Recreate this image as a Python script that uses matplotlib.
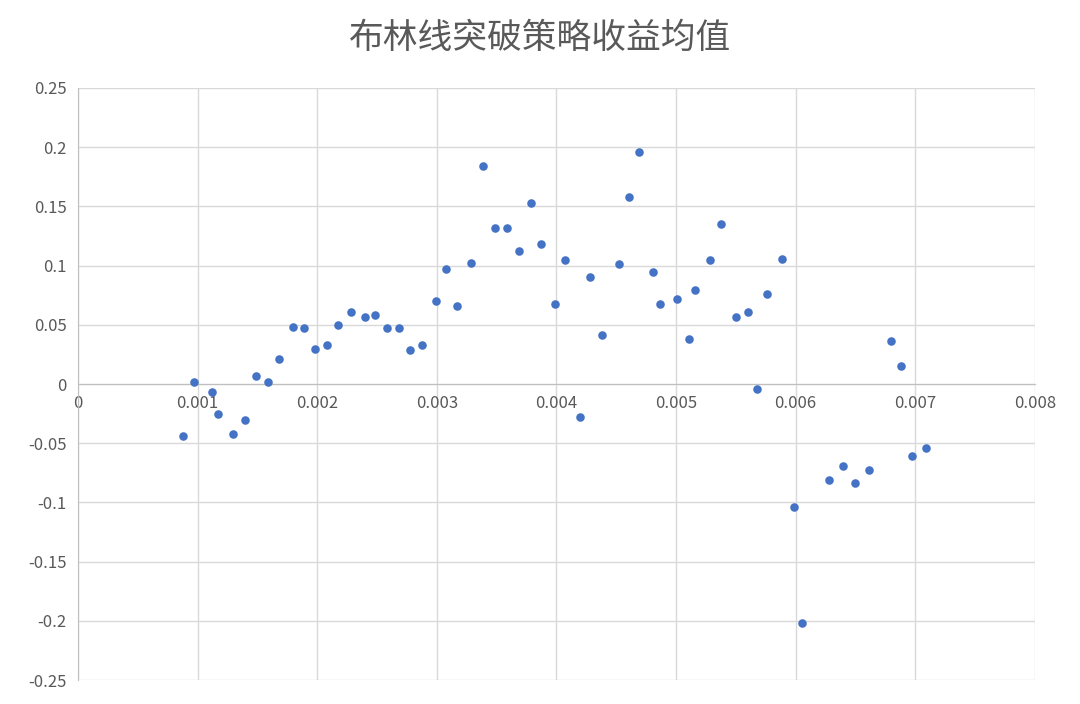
import matplotlib
matplotlib.use("Agg")
import matplotlib.pyplot as plt

plt.rcParams["font.family"] = ["Noto Sans CJK SC", "DejaVu Sans"]

threshold = [0.00088, 0.00097, 0.00112, 0.00117, 0.0013, 0.0014, 0.00149, 0.00159, 0.00168, 0.0018,
             0.00189, 0.00198, 0.00208, 0.00217, 0.00228, 0.0024, 0.00248, 0.00258, 0.00268, 0.00278,
             0.00288, 0.00299, 0.00308, 0.00317, 0.00329, 0.00339, 0.00349, 0.00359, 0.00369, 0.00379,
             0.00387, 0.00399, 0.00407, 0.0042, 0.00428, 0.00438, 0.00452, 0.00461, 0.00469, 0.00481,
             0.00487, 0.00501, 0.00511, 0.00516, 0.00528, 0.00538, 0.0055, 0.0056, 0.00568, 0.00576,
             0.00589, 0.00599, 0.00605, 0.00628, 0.0064, 0.0065, 0.00661, 0.0068, 0.00688, 0.00697,
             0.00709]
mean_return = [-0.044, 0.002, -0.007, -0.025, -0.042, -0.030, 0.007, 0.002, 0.021, 0.048,
               0.047, 0.030, 0.033, 0.050, 0.061, 0.057, 0.058, 0.047, 0.047, 0.029,
               0.033, 0.070, 0.097, 0.066, 0.102, 0.184, 0.132, 0.132, 0.112, 0.153,
               0.118, 0.068, 0.105, -0.028, 0.090, 0.041, 0.101, 0.158, 0.196, 0.095,
               0.068, 0.072, 0.038, 0.079, 0.105, 0.135, 0.057, 0.061, -0.004, 0.076,
               0.106, -0.104, -0.202, -0.081, -0.069, -0.084, -0.073, 0.036, 0.015, -0.061,
               -0.054]

fig = plt.figure(figsize=(10.8, 7.04), dpi=100)
ax = fig.add_axes([0.0722, 0.034, 0.886, 0.841])
ax.scatter(threshold, mean_return, s=38, color="#4472C4", zorder=3, linewidths=0)

ax.set_xlim(0, 0.008)
ax.set_ylim(-0.25, 0.25)
ax.set_xticks([i * 0.001 for i in range(9)])
ax.set_xticklabels(["0", "0.001", "0.002", "0.003", "0.004", "0.005", "0.006", "0.007", "0.008"])
ax.set_yticks([-0.25, -0.2, -0.15, -0.1, -0.05, 0, 0.05, 0.1, 0.15, 0.2, 0.25])
ax.set_yticklabels(["-0.25", "-0.2", "-0.15", "-0.1", "-0.05", "0", "0.05", "0.1", "0.15", "0.2", "0.25"])
ax.grid(True, color="#d9d9d9", linewidth=1, zorder=0)
for side in ("top", "right"):
    ax.spines[side].set_visible(False)
ax.spines["left"].set_color("#bfbfbf")
ax.spines["bottom"].set_position(("data", 0))
ax.spines["bottom"].set_color("#bfbfbf")
ax.tick_params(length=0, labelsize=12, colors="#595959", pad=8)
fig.suptitle("布林线突破策略收益均值", fontsize=25, color="#595959", x=0.5, y=0.946, va="center")

fig.savefig("out.png", dpi=100)
